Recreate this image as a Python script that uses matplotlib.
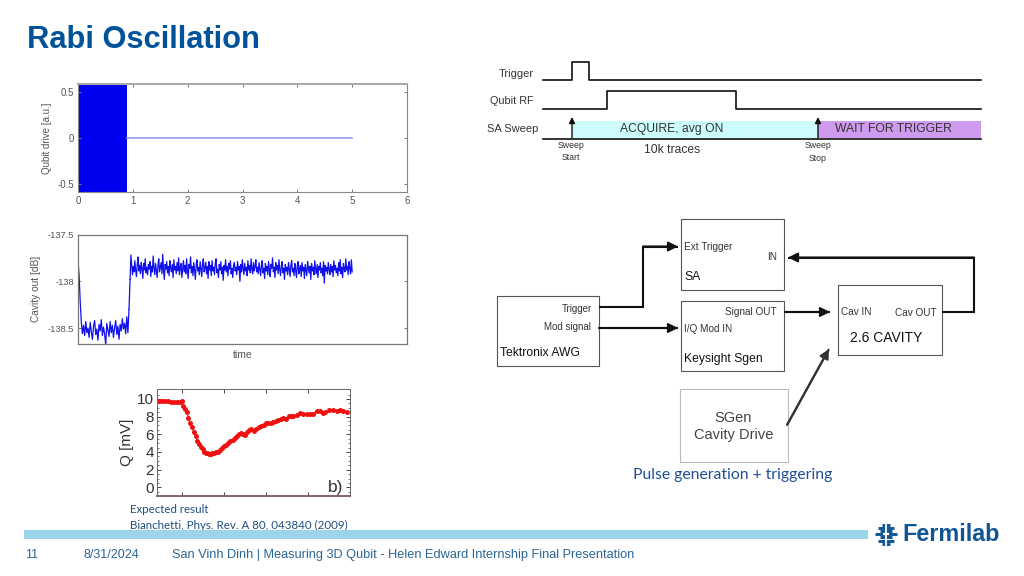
import numpy as np
import matplotlib
matplotlib.use("Agg")
import matplotlib.pyplot as plt
from matplotlib.patches import Rectangle

plt.rcParams['font.family'] = ['Liberation Sans', 'DejaVu Sans']

W, H = 1024, 576

# qubit drive panel
drive_time = [0, 0.9]
drive_high = [0.6, 0.6]
drive_low = [-0.6, -0.6]
idle_time = [0.9, 5]
idle_value = [0, 0]

# cavity out panel
cavity_low = [
    -137.78, -137.94, -138.22, -138.44, -138.56, -138.47, -138.58, -138.43, -138.55, -138.50,
    -138.60, -138.44, -138.54, -138.62, -138.48, -138.42, -138.57, -138.51, -138.63, -138.46,
    -138.53, -138.41, -138.58, -138.49, -138.56, -138.68, -138.45, -138.52, -138.59, -138.43,
    -138.55, -138.47, -138.60, -138.50, -138.42, -138.57, -138.48, -138.62, -138.46, -138.53,
    -138.40, -138.51, -138.45, -138.56, -138.38, -138.55, -138.30,
]
cavity_high = [
    -137.98, -137.72, -137.82, -137.93, -137.84, -137.90, -137.78, -137.88, -137.95, -137.82,
    -137.74, -137.89, -137.83, -137.92, -137.80, -137.86, -137.97, -137.81, -137.88, -137.76,
    -137.91, -137.85, -137.93, -137.82, -137.87, -137.79, -137.95, -137.84, -137.90, -137.73,
    -137.86, -137.93, -137.81, -137.89, -137.96, -137.83, -137.76, -137.90, -137.85, -137.80,
    -137.92, -137.71, -137.88, -137.98, -137.82, -137.87, -137.79, -137.91, -137.84, -137.94,
    -137.78, -137.86, -137.90, -137.82, -137.96, -137.77, -137.88, -137.84, -137.92, -137.80,
    -137.89, -137.75, -137.93, -137.85, -137.81, -137.96, -137.87, -137.78, -137.90, -137.83,
    -137.92, -137.76, -137.88, -137.97, -137.82, -137.86, -137.74, -137.91, -137.84, -137.94,
    -137.80, -137.88, -137.98, -137.83, -137.77, -137.89, -137.85, -137.93, -137.79, -137.87,
    -137.95, -137.82, -137.76, -137.90, -137.86, -137.80, -137.92, -137.84, -137.97, -137.79,
    -137.88, -137.83, -137.94, -137.78, -137.89, -137.85, -137.93, -137.81, -137.76, -137.91,
    -137.87, -137.96, -137.82, -137.88, -137.79, -137.92, -137.85, -137.99, -137.83, -137.88,
    -137.77, -137.90, -137.84, -137.94, -137.81, -137.87, -137.78, -137.92, -137.86, -137.96,
    -137.83, -137.80, -137.89, -137.85, -137.93, -137.79, -137.88, -137.84, -138.00, -137.82,
    -137.90, -137.77, -137.86, -137.93, -137.81, -137.89, -137.85, -137.94, -137.78, -137.88,
    -137.83, -137.91, -137.76, -137.87, -137.92, -137.80, -137.89, -137.84, -137.77, -137.90,
    -137.85, -137.92, -137.80, -137.87, -137.94, -137.83, -137.78, -137.91, -137.86, -137.97,
    -137.81, -137.89, -137.84, -137.93, -137.79, -137.88, -137.95, -137.82, -137.86, -137.75,
    -137.90, -137.85, -137.96, -137.80, -137.88, -137.83, -137.92, -137.77, -137.87, -137.94,
    -137.84, -137.79, -137.91, -137.86, -137.98, -137.82, -137.89, -137.85, -137.93, -137.80,
    -137.87, -137.95, -137.83, -137.78, -137.90, -137.86, -137.94, -137.81, -137.88, -137.96,
    -137.84, -137.79, -137.92, -137.87, -137.83, -137.95, -137.80, -137.89, -137.85, -137.97,
    -137.82, -137.88, -137.94, -137.79, -137.86, -137.91, -137.84, -137.98, -137.81, -137.89,
    -137.85, -137.93, -137.78, -137.87, -137.92, -137.82, -137.96, -137.84, -137.88, -137.80,
    -137.91, -137.86, -137.94, -137.79, -138.02, -137.83, -137.89, -137.85, -137.92, -137.80,
    -137.87, -137.93, -137.82, -137.90, -137.84, -137.95, -137.78, -137.88, -137.83, -137.91,
    -137.86, -137.94, -137.80, -137.89, -137.77, -137.92, -137.85, -137.96, -137.81, -137.87,
    -137.90, -137.76, -137.88, -137.84, -137.93, -137.79, -137.86, -137.92, -137.77, -137.90,
]

# Bianchetti panel
q_time = [
    -0.56, -0.48, -0.41, -0.34, -0.27, -0.20, -0.13, -0.06, -0.01, 0.03, 0.07, 0.11, 0.15, 0.19,
    0.23, 0.27, 0.32, 0.36, 0.41, 0.45, 0.49, 0.52, 0.56, 0.60, 0.64, 0.68, 0.72, 0.76, 0.80,
    0.85, 0.90, 0.95, 1.00, 1.05, 1.10, 1.15, 1.20, 1.25, 1.30, 1.35, 1.40, 1.45, 1.50, 1.55,
    1.60, 1.65, 1.71, 1.77, 1.83, 1.89, 1.95, 2.00, 2.05, 2.11, 2.17, 2.23, 2.29, 2.35, 2.41,
    2.47, 2.54, 2.60, 2.65, 2.73, 2.81, 2.89, 2.97, 3.05, 3.13, 3.21, 3.29, 3.35, 3.41, 3.50,
    3.60, 3.68, 3.76, 3.84, 3.92,
]
q_mv = [
    9.8, 9.8, 9.75, 9.75, 9.7, 9.7, 9.65, 9.65, 9.75, 9.2, 8.9, 8.5, 7.9, 7.3, 6.8, 6.3, 5.8,
    5.3, 4.9, 4.6, 4.3, 4.0, 3.9, 3.85, 3.8, 3.8, 3.85, 3.85, 3.95, 4.05, 4.2, 4.4, 4.7, 4.8,
    5.0, 5.2, 5.35, 5.6, 5.8, 6.05, 6.1, 6.0, 5.95, 6.25, 6.5, 6.55, 6.4, 6.55, 6.8, 6.9, 7.0,
    7.25, 7.3, 7.25, 7.35, 7.55, 7.6, 7.75, 7.8, 7.7, 8.05, 8.1, 8.1, 8.2, 8.45, 8.35, 8.35,
    8.3, 8.35, 8.65, 8.6, 8.45, 8.5, 8.7, 8.75, 8.65, 8.75, 8.6, 8.55,
]

# timing diagram levels, px
trigger_x = [543, 572, 572, 589, 589, 981]
trigger_y = [80, 80, 62, 62, 80, 80]
qubit_x = [543, 607, 607, 736, 736, 981]
qubit_y = [109, 109, 91, 91, 109, 109]

NAVY = '#00529b'
FOOT = '#2b6496'
TXT = '#333333'
AX = '#777777'
LOGO = '#0f5596'


def panel(fig, left, top, right, bottom):
    return fig.add_axes([left / W, 1 - bottom / H, (right - left) / W, (bottom - top) / H])


def box(ax, x0, y0, x1, y1, ec='#555555', lw=0.8):
    ax.add_patch(Rectangle((x0, y0), x1 - x0, y1 - y0, fc='white', ec=ec, lw=lw, zorder=2))


def arrow(ax, xs, ys, lw=1.5, color='#111111'):
    ax.plot(xs, ys, color=color, lw=lw, solid_joinstyle='miter', zorder=3, solid_capstyle='butt')
    ax.annotate('', xy=(xs[-1], ys[-1]), xytext=(xs[-2], ys[-2]), zorder=4,
                arrowprops=dict(arrowstyle='-|>', color=color, lw=lw, mutation_scale=14,
                                shrinkA=0, shrinkB=0))


fig = plt.figure(figsize=(W / 100, H / 100), dpi=100)

# page level overlay in pixel coordinates
bg = fig.add_axes([0, 0, 1, 1])
bg.set_xlim(0, W)
bg.set_ylim(H, 0)
bg.axis('off')

bg.text(27, 40, 'Rabi Oscillation', color=NAVY, fontsize=22.2, fontweight='bold', va='center')

# timing diagram
bg.add_patch(Rectangle((572, 121), 246, 17, fc='#ccfbfb', ec='none'))
bg.add_patch(Rectangle((818, 121), 163, 17, fc='#cf9bee', ec='none'))
bg.plot(trigger_x, trigger_y, color='#111111', lw=1.2)
bg.plot(qubit_x, qubit_y, color='#111111', lw=1.2)
bg.plot([543, 981], [138.5, 138.5], color='#111111', lw=1.2)
for ax_x in (572, 818):
    bg.annotate('', xy=(ax_x, 117), xytext=(ax_x, 138),
                arrowprops=dict(arrowstyle='-|>', color='#111111', lw=1.0, mutation_scale=9,
                                shrinkA=0, shrinkB=0))
bg.text(534, 74, 'Trigger', ha='right', va='center', fontsize=8, color=TXT)
bg.text(534, 101, 'Qubit RF', ha='right', va='center', fontsize=7.8, color=TXT)
bg.text(538, 129, 'SA Sweep', ha='right', va='center', fontsize=8, color=TXT)
bg.text(672, 129, 'ACQUIRE, avg ON', ha='center', va='center', fontsize=8.7, color=TXT)
bg.text(893, 128.5, 'WAIT FOR TRIGGER', ha='center', va='center', fontsize=8.7, color=TXT)
bg.text(672, 150, '10k traces', ha='center', va='center', fontsize=8.7, color=TXT)
bg.text(571, 151.5, 'Sweep\nStart', ha='center', va='center', fontsize=6.3, color=TXT, linespacing=1.5)
bg.text(818, 152, 'Sweep\nStop', ha='center', va='center', fontsize=6.3, color=TXT, linespacing=1.5)

# block diagram
box(bg, 681, 219, 784, 290)
box(bg, 681, 301, 784, 371)
box(bg, 497, 296, 599, 366)
box(bg, 838, 285, 942, 355)
box(bg, 679.5, 388.5, 787.5, 462, ec='#bbbbbb')

arrow(bg, [599, 643, 643, 678], [306.5, 306.5, 246.5, 246.5])
arrow(bg, [599, 678], [328, 328])
arrow(bg, [785, 830], [312, 312])
arrow(bg, [942, 974, 974, 788], [311.5, 311.5, 257.5, 257.5])
arrow(bg, [787, 829], [425, 349], color='#333333')

bg.text(684, 247.5, 'Ext Trigger', va='center', fontsize=7.2, color=TXT)
bg.text(777, 256.5, 'IN', ha='right', va='center', fontsize=7.2, color=TXT)
bg.text(684, 277, 'SA', va='center', fontsize=8.7, color='#111111')
bg.text(592, 308.5, 'Trigger', ha='right', va='center', fontsize=7, color=TXT)
bg.text(591, 327, 'Mod signal', ha='right', va='center', fontsize=7, color=TXT)
bg.text(500, 353, 'Tektronix AWG', va='center', fontsize=8.7, color='#111111')
bg.text(777, 312, 'Signal OUT', ha='right', va='center', fontsize=7.2, color=TXT)
bg.text(684, 329, 'I/Q Mod IN', va='center', fontsize=7.2, color=TXT)
bg.text(684, 359, 'Keysight Sgen', va='center', fontsize=8.7, color='#111111')
bg.text(841, 312, 'Cav IN', va='center', fontsize=7.2, color=TXT)
bg.text(937, 312.5, 'Cav OUT', ha='right', va='center', fontsize=7.2, color=TXT)
bg.text(886, 338.5, '2.6 CAVITY', ha='center', va='center', fontsize=10, color='#111111')
bg.text(733.5, 426.5, 'SGen\nCavity Drive', ha='center', va='center', fontsize=10.5, color='#444444',
        linespacing=1.3)
bg.text(733, 475, 'Pulse generation + triggering', ha='center', va='center', fontsize=11.3,
        family=['Lato', 'DejaVu Sans'], color='#1f4e96')

# captions and footer
bg.text(130, 509.5, 'Expected result', va='center', fontsize=8.3, family=['Lato', 'DejaVu Sans'], color='#1f4e80')
bg.text(130, 525, 'Bianchetti, Phys. Rev. A 80, 043840 (2009)', va='center', fontsize=8.3,
        family=['Lato', 'DejaVu Sans'], color='#1f4e80')
bg.add_patch(Rectangle((24, 530), 844, 9, fc='#9cd4ea', ec='none', zorder=5))
bg.text(25, 555, '11', va='center', fontsize=9, color=FOOT)
bg.text(83, 555, '8/31/2024', va='center', fontsize=9, color=FOOT)
bg.text(172, 555, 'San Vinh Dinh | Measuring 3D Qubit - Helen Edward Internship Final Presentation',
        va='center', fontsize=9.15, color=FOOT)

# Fermilab mark: stacked bars with a white cross cut through the middle
for dy, half in ((-9.5, 4), (-6.5, 8), (-3.2, 6), (0, 11), (3.2, 6), (6.5, 8), (9.5, 4)):
    bg.plot([886 - half, 886 + half], [534 + dy, 534 + dy], color=LOGO, lw=2.1, solid_capstyle='butt')
bg.plot([886, 886], [521, 547], color='white', lw=1.3, solid_capstyle='butt')
bg.plot([886 - 3, 886 + 3], [534, 534], color='white', lw=1.6, solid_capstyle='butt')
bg.text(902.5, 534.5, 'Fermilab', va='center', fontsize=16.8, fontweight='bold', color=LOGO)

# qubit drive
ax1 = panel(fig, 78, 84, 407, 192)
ax1.fill_between(drive_time, drive_low, drive_high, color='#0000f0', lw=0)
ax1.plot(idle_time, idle_value, color='#9a9aee', lw=1.2)
ax1.set_xlim(0, 6)
ax1.set_ylim(-0.583, 0.583)
ax1.set_xticks([0, 1, 2, 3, 4, 5, 6])
ax1.set_yticks([-0.5, 0, 0.5])
ax1.set_yticklabels(['-0.5', '0', '0.5'])
ax1.tick_params(direction='in', length=2.5, width=0.7, color=AX, labelsize=7, labelcolor='#555555',
                top=True, right=True, pad=3)
ax1.set_ylabel('Qubit drive [a.u.]', fontsize=7, color='#555555')
ax1.yaxis.set_label_coords(-0.079, 0.5)
for s in ax1.spines.values():
    s.set_color('#888888')
    s.set_linewidth(0.8)
ax1.spines['top'].set_color('#aaaaaa')
ax1.spines['top'].set_linewidth(1.5)

# cavity out
ax2 = panel(fig, 78, 234.5, 407, 343.5)
ax2.plot(np.linspace(0, 0.93, len(cavity_low)), cavity_low, color='#1010ee', lw=0.9)
ax2.plot(np.linspace(0.95, 5, len(cavity_high)), cavity_high, color='#1010ee', lw=0.9)
ax2.plot([0.93, 0.95], [cavity_low[-1], cavity_high[0]], color='#1010ee', lw=0.9)
ax2.set_xlim(0, 6)
ax2.set_ylim(-138.665, -137.5)
ax2.set_xticks([])
ax2.set_yticks([-138.5, -138, -137.5])
ax2.set_yticklabels(['-138.5', '-138', '-137.5'])
ax2.tick_params(direction='in', length=2.5, width=0.7, color=AX, labelsize=6.7, labelcolor='#555555',
                right=True, pad=3)
ax2.set_ylabel('Cavity out [dB]', fontsize=7.3, color='#555555')
ax2.yaxis.set_label_coords(-0.111, 0.5)
ax2.set_xlabel('time', fontsize=7.5, color='#555555', labelpad=5)
for s in ax2.spines.values():
    s.set_color('#777777')
    s.set_linewidth(0.9)

# expected result
ax3 = panel(fig, 157, 389, 350, 496)
ax3.plot(q_time, q_mv, color='#553344', lw=0.7, zorder=1)
ax3.plot(q_time, q_mv, 'o', color='#f01010', ms=3.6, mew=0, zorder=2)
ax3.set_xlim(-0.6, 4)
ax3.set_ylim(-0.98, 11.13)
ax3.set_xticks([0, 1, 2, 3, 4])
ax3.set_xticklabels([])
ax3.set_yticks([0, 2, 4, 6, 8, 10])
ax3.set_yticks(np.arange(-0.5, 11, 0.5), minor=True)
ax3.tick_params(which='major', direction='in', length=3, width=0.7, color='#444444', labelsize=11,
                labelcolor='#333333', top=True, right=True, pad=2)
ax3.tick_params(which='minor', direction='in', length=1.5, width=0.5, color='#444444', top=True, right=True)
ax3.set_ylabel('Q [mV]', fontsize=11, color='#333333', labelpad=2)
ax3.text(3.65, 0, 'b)', ha='center', va='center', fontsize=12.5, color='#333333')
for s in ax3.spines.values():
    s.set_color('#666666')
    s.set_linewidth(0.7)
ax3.spines['bottom'].set_color('#7a5a60')
ax3.spines['bottom'].set_linewidth(1.3)

fig.savefig('out.png', dpi=100)
